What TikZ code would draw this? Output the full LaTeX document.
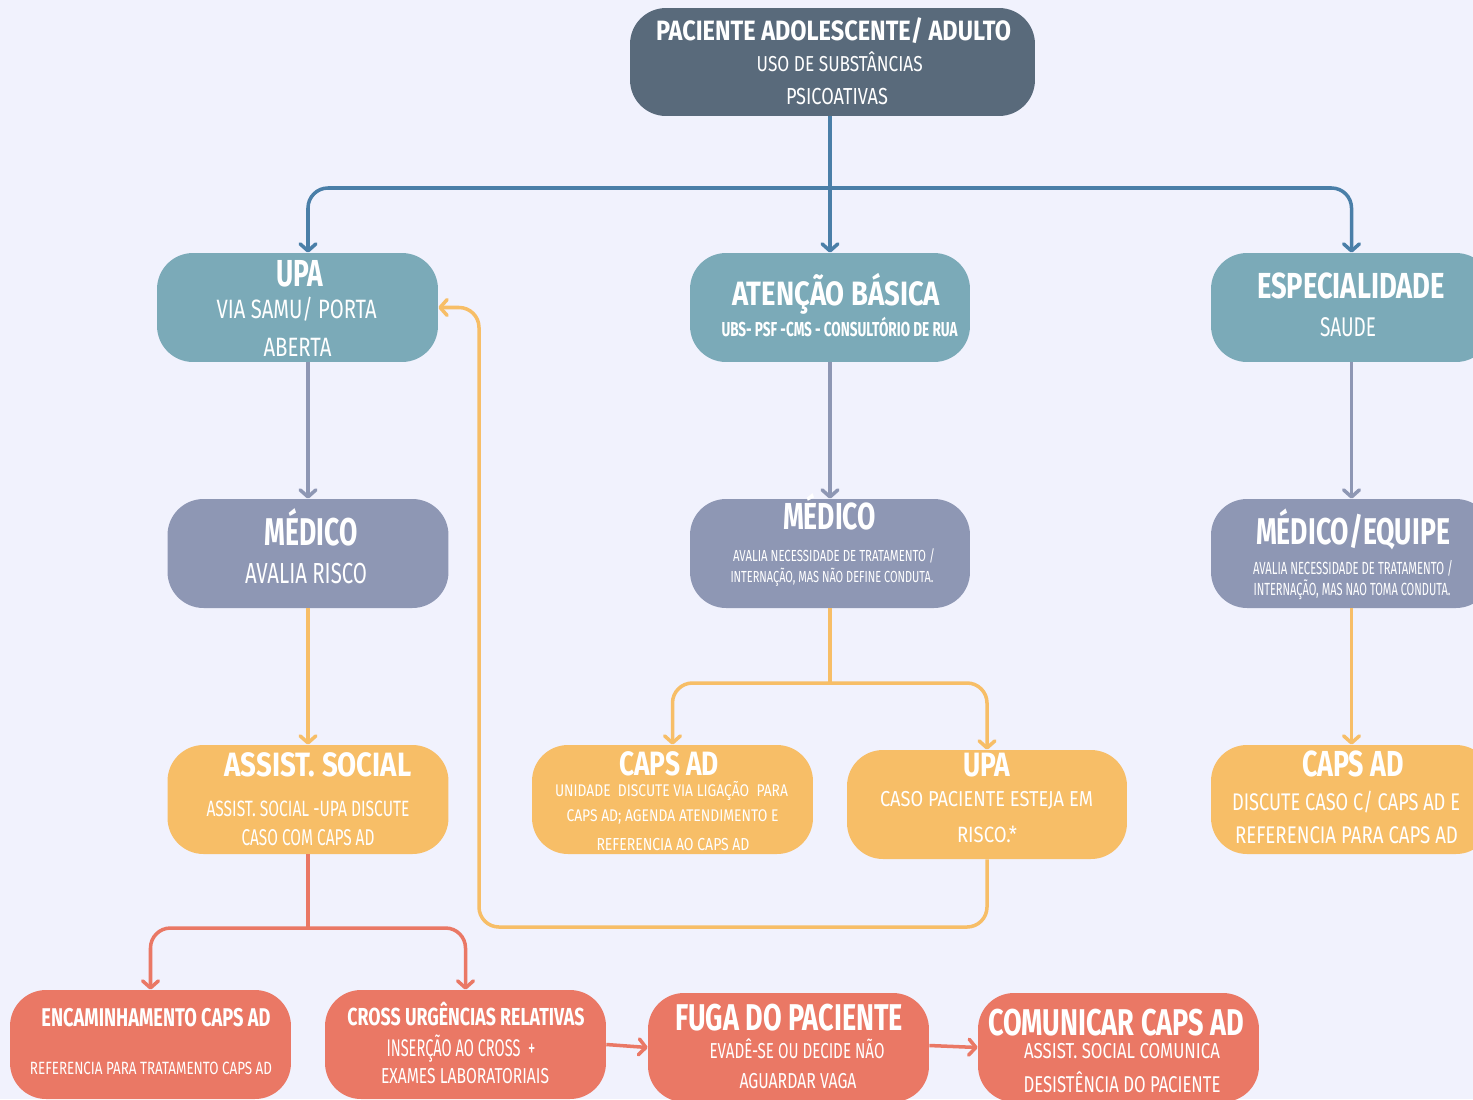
\documentclass[tikz,border=0pt]{standalone}
\usepackage{fontspec}
\setmainfont{Fira Sans}
\usetikzlibrary{arrows.meta}
\newdimen\pxu \pxu=0.02cm
\newcommand\tl[3]{\resizebox{#1\pxu}{\height}{\fontsize{#2pt}{#2pt}\selectfont #3}}
\newcommand\tb[3]{\resizebox{#1\pxu}{\height}{\fontsize{#2pt}{#2pt}\selectfont\bfseries #3}}
\definecolor{bgc}{HTML}{F1F2FD}
\definecolor{slatec}{HTML}{596A7B}
\definecolor{tealc}{HTML}{7BAAB8}
\definecolor{medc}{HTML}{8E97B4}
\definecolor{orc}{HTML}{F7BE67}
\definecolor{redc}{HTML}{EA7865}
\definecolor{bluec}{HTML}{4A7FA8}
\tikzset{
  box/.style={rectangle, rounded corners=0.72cm, minimum width=5.62cm, minimum height=2.18cm, inner sep=0pt, draw=none},
  tx/.style={text=white, inner sep=0pt, anchor=base},
  arr/.style={line width=2pt, rounded corners=0.4cm, -{Straight Barb[length=4pt,width=9pt,round]}},
  lin/.style={line width=2pt, rounded corners=0.4cm},
}
\begin{document}
\begin{tikzpicture}[x=0.02cm,y=-0.02cm]
\useasboundingbox (0,0) rectangle (1473,1099);
\clip (0,0) rectangle (1473,1099);
\fill[bgc] (0,0) rectangle (1473,1099);

% boxes
\node[box, fill=slatec, minimum width=8.1cm, minimum height=2.16cm] (top) at (832.5,62) {};
\node[box, fill=tealc] (upa) at (297.5,307.5) {};
\node[box, fill=tealc, minimum width=5.6cm] (ab) at (830,307.5) {};
\node[box, fill=tealc] (esp) at (1351.5,307.5) {};
\node[box, fill=medc] (med1) at (308,553.5) {};
\node[box, fill=medc, minimum width=5.6cm] (med2) at (830,553.5) {};
\node[box, fill=medc] (med3) at (1351.5,553.5) {};
\node[box, fill=orc] (as) at (308,799.5) {};
\node[box, fill=orc] (caps2) at (672.5,799.5) {};
\node[box, fill=orc, minimum width=5.6cm] (upa2) at (987,804.5) {};
\node[box, fill=orc] (caps3) at (1351.5,799.5) {};
\node[box, fill=redc] (enc) at (150.5,1044.5) {};
\node[box, fill=redc] (cross) at (465.5,1044.5) {};
\node[box, fill=redc] (fuga) at (788.5,1047.5) {};
\node[box, fill=redc] (com) at (1118.5,1047.5) {};

% junction coordinates
\coordinate (bj) at (830,188);
\coordinate (oj) at (830,683);
\coordinate (rj) at (308,928);
\coordinate (lp) at (479,927);

% blue connectors
\draw[arr, bluec] (ab.north |- top.south) -- (ab.north);
\draw[arr, bluec] (bj) -| (upa.north -| med1.north);
\draw[arr, bluec] (bj) -| (esp.north);
% grey connectors
\draw[arr, medc] (upa.south -| med1.north) -- (med1.north);
\draw[arr, medc] (ab.south) -- (med2.north);
\draw[arr, medc] (esp.south) -- (med3.north);
% orange connectors
\draw[arr, orc] (med1.south) -- (as.north);
\draw[lin, orc] (med2.south) -- (oj);
\draw[arr, orc] (oj) -| (caps2.north);
\draw[arr, orc] (oj) -| (upa2.north);
\draw[arr, orc] (med3.south) -- (caps3.north);
\draw[arr, orc] (upa2.south) |- (lp) |- (upa.east);
% red connectors
\draw[lin, redc] (as.south) -- (rj);
\draw[arr, redc] (rj) -| (enc.north);
\draw[arr, redc] (rj) -| (cross.north);
\draw[arr, redc] (cross.east) -- (fuga.west);
\draw[arr, redc] ([yshift=0.04cm]fuga.east) -- (com.west);

% texts
\node[tx] (t1) at (833.5,40) {\tb{355}{15.9}{PACIENTE ADOLESCENTE/ ADULTO}};
\node[tx] (t2) at (839.7,71.7) {\tl{166}{12.3}{USO DE SUBSTÂNCIAS}};
\node[tx] (t3) at (837,104.3) {\tl{102}{13.2}{PSICOATIVAS}};

\node[tx] (u1) at (299.7,286.7) {\tb{47}{21.4}{UPA}};
\node[tx] (u2) at (296.7,318.3) {\tl{160}{15.1}{VIA SAMU/ PORTA}};
\node[tx] (u3) at (297.5,356.7) {\tl{68}{15.1}{ABERTA}};

\node[tx] (a1) at (836,305) {\tb{208}{19.2}{ATENÇÃO BÁSICA}};
\node[tx] (a2) at (839.5,336.7) {\tb{236}{11.5}{UBS- PSF -CMS - CONSULTÓRIO DE RUA}};

\node[tx] (e1) at (1351,298.3) {\tb{188}{20.6}{ESPECIALIDADE}};
\node[tx] (e2) at (1348,336) {\tl{56}{15.4}{SAUDE}};

\node[tx] (m11) at (311,545) {\tb{93}{22}{MÉDICO}};
\node[tx] (m12) at (306,583) {\tl{122}{16.5}{AVALIA RISCO}};

\node[tx] (m21) at (829.5,529.3) {\tb{93}{21.4}{MÉDICO}};
\node[tx] (m22) at (834,561.7) {\tl{202}{9.1}{AVALIA NECESSIDADE DE TRATAMENTO /}};
\node[tx] (m23) at (832,582.7) {\tl{203}{9.1}{INTERNAÇÃO, MAS NÃO DEFINE CONDUTA.}};

\node[tx] (m31) at (1353,544) {\tb{194}{21.2}{MÉDICO/EQUIPE}};
\node[tx] (m32) at (1353,574) {\tl{200}{10}{AVALIA NECESSIDADE DE TRATAMENTO /}};
\node[tx] (m33) at (1352,595) {\tl{197}{10}{INTERNAÇÃO, MAS NAO TOMA CONDUTA.}};

\node[tx] (s1) at (318,776.7) {\tb{187}{19.2}{ASSIST. SOCIAL}};
\node[tx] (s2) at (308,816) {\tl{203}{12.6}{ASSIST. SOCIAL -UPA DISCUTE}};
\node[tx] (s3) at (308,845) {\tl{133}{13}{CASO COM CAPS AD}};

\node[tx] (c21) at (669,775) {\tb{100}{19.2}{CAPS AD}};
\node[tx] (c22) at (671.5,796.7) {\tl{233}{9.6}{UNIDADE\ \ DISCUTE VIA LIGAÇÃO\ \ PARA}};
\node[tx] (c23) at (672.5,821.7) {\tl{212}{9.6}{CAPS AD; AGENDA ATENDIMENTO E}};
\node[tx] (c24) at (673,850) {\tl{153}{9.9}{REFERENCIA AO CAPS AD}};

\node[tx] (p1) at (987,776.7) {\tb{47}{19.2}{UPA}};
\node[tx] (p2) at (986.5,806.7) {\tl{213}{12.3}{CASO PACIENTE ESTEJA EM}};
\node[tx] (p3) at (987,842.7) {\tl{60}{12.6}{RISCO.*}};

\node[tx] (c31) at (1353,776.7) {\tb{102}{20.6}{CAPS AD}};
\node[tx] (c32) at (1346,810) {\tl{228}{13.7}{DISCUTE CASO C/ CAPS AD E}};
\node[tx] (c33) at (1346.5,843.3) {\tl{223}{13.7}{REFERENCIA PARA CAPS AD}};

\node[tx] (n1) at (156,1026) {\tb{229}{14.6}{ENCAMINHAMENTO CAPS AD}};
\node[tx] (n2) at (151,1074) {\tl{242}{10.1}{REFERENCIA PARA TRATAMENTO CAPS AD}};

\node[tx] (r1) at (466,1025) {\tb{237}{14}{CROSS URGÊNCIAS RELATIVAS}};
\node[tx] (r2) at (461,1056.7) {\tl{149}{13.7}{INSERÇÃO AO CROSS\ \ +}};
\node[tx] (r3) at (465,1083) {\tl{168}{12.3}{EXAMES LABORATORIAIS}};

\node[tx] (f1) at (789,1030.7) {\tb{228}{21.2}{FUGA DO PACIENTE}};
\node[tx] (f2) at (797,1058) {\tl{175}{12.3}{EVADÊ-SE OU DECIDE NÃO}};
\node[tx] (f3) at (798,1088) {\tl{117}{12.3}{AGUARDAR VAGA}};

\node[tx] (k1) at (1116,1035) {\tb{256}{21.2}{COMUNICAR CAPS AD}};
\node[tx] (k2) at (1122,1058) {\tl{196}{12.3}{ASSIST. SOCIAL COMUNICA}};
\node[tx] (k3) at (1122,1092) {\tl{197}{13}{DESISTÊNCIA DO PACIENTE}};
\end{tikzpicture}
\end{document}
